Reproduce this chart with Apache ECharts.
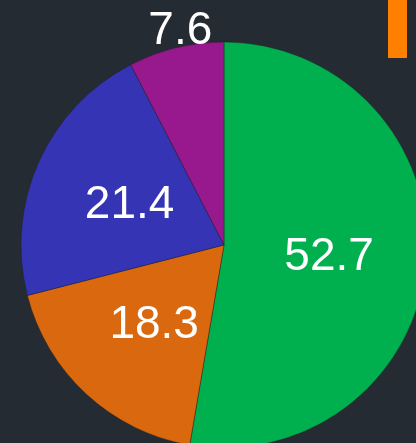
<!DOCTYPE html>
<html>
<head>
<meta charset="utf-8">
<script src="https://cdn.jsdelivr.net/npm/echarts@6/dist/echarts.min.js"></script>
<style>
  html, body { margin: 0; padding: 0; background: #252b32; }
  #chart { width: 416px; height: 443px; }
</style>
</head>
<body>
<div id="chart"></div>
<script>
var sliceNames = ['A', 'B', 'C', 'D'];
var sliceValues = [52.7, 18.3, 21.4, 7.6];
var sliceColors = ['#00b04f', '#da680e', '#3434b4', '#98188e'];

var chart = echarts.init(document.getElementById('chart'));

var pieData = sliceValues.map(function (v, i) {
  var item = { name: sliceNames[i], value: v, itemStyle: { color: sliceColors[i] } };
  // small slice: label pushed up above the pie
  if (i === 3) {
    item.label = { offset: [-19, -112] };
  }
  return item;
});

chart.setOption({
  backgroundColor: '#252b32',
  animation: false,
  graphic: [{
    type: 'rect',
    left: 388,
    top: 0,
    shape: { width: 19, height: 58 },
    style: { fill: '#ff8000' }
  }],
  series: [{
    type: 'pie',
    center: [224, 245],
    radius: 203,
    startAngle: 90,
    clockwise: true,
    label: {
      show: true,
      position: 'inside',
      color: '#ffffff',
      fontSize: 46,
      offset: [1, 3],
      fontFamily: 'Liberation Sans, Arial, sans-serif',
      formatter: function (p) { return p.value.toFixed(1); }
    },
    labelLine: { show: false },
    itemStyle: { borderColor: 'rgba(30,30,30,0.4)', borderWidth: 1 },
    emphasis: { disabled: true },
    data: pieData
  }]
});
</script>
</body>
</html>
